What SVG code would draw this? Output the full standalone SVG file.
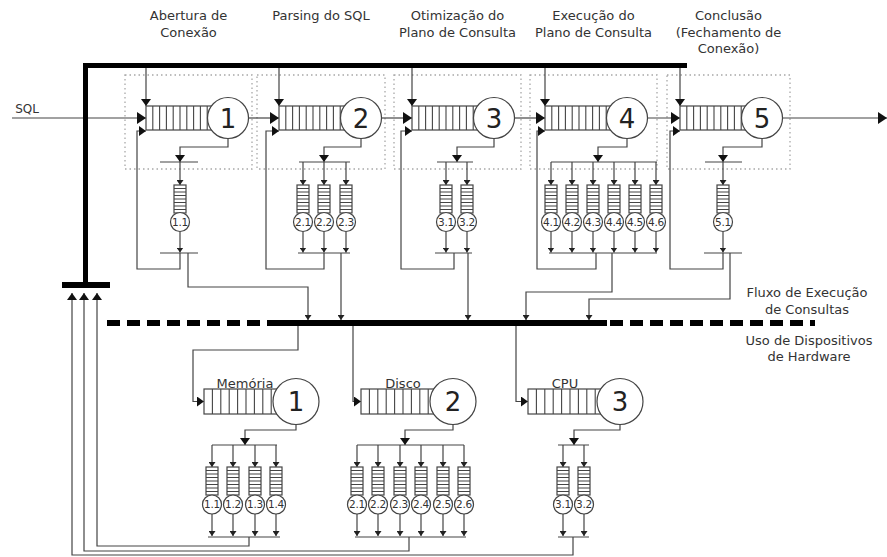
<svg xmlns="http://www.w3.org/2000/svg" xmlns:xlink="http://www.w3.org/1999/xlink" width="887" height="557" viewBox="0 0 887 557">
<style>
.l{fill:none;stroke:#444;stroke-width:1.2}
.box{fill:none;stroke:#a8a8a8;stroke-width:1.3;stroke-dasharray:1.5 3}
.qf{fill:#fff;stroke:#444;stroke-width:1.2}
.qs{fill:none;stroke:#444;stroke-width:1.1}
.c{fill:#fff;stroke:#444;stroke-width:1.2}
.t{font-family:"DejaVu Sans",Verdana,sans-serif;font-size:13px;fill:#333;text-anchor:middle}
.n{font-family:"DejaVu Sans",Verdana,sans-serif;font-size:26px;fill:#222;text-anchor:middle}
.sl{font-family:"DejaVu Sans",Verdana,sans-serif;font-size:10.5px;fill:#333;text-anchor:middle;letter-spacing:-0.3px}
.thick{fill:none;stroke:#000}
</style>
<defs>
<marker id="ab" viewBox="0 0 10 10" refX="10" refY="5" markerWidth="9" markerHeight="12" markerUnits="userSpaceOnUse" orient="auto" preserveAspectRatio="none"><path d="M0,0L10,5L0,10z" fill="#111"/></marker>
<marker id="am" viewBox="0 0 10 10" refX="10" refY="5" markerWidth="7" markerHeight="10" markerUnits="userSpaceOnUse" orient="auto" preserveAspectRatio="none"><path d="M0,0L10,5L0,10z" fill="#111"/></marker>
<marker id="as" viewBox="0 0 10 10" refX="10" refY="5" markerWidth="5" markerHeight="7" markerUnits="userSpaceOnUse" orient="auto" preserveAspectRatio="none"><path d="M0,0L10,5L0,10z" fill="#222"/></marker>
<g id="bq"><rect class="qf" x="0" y="0" width="68" height="24"/><path class="qs" d="M6.8,0v24M13.6,0v24M20.4,0v24M27.2,0v24M34,0v24M40.8,0v24M47.6,0v24M54.4,0v24M61.2,0v24"/></g>
<g id="hq"><rect class="qf" x="0" y="0" width="82" height="25"/><path class="qs" d="M8.4,0v25M16.8,0v25M25.2,0v25M33.6,0v25M42,0v25M50.4,0v25M58.8,0v25M67.2,0v25M75.6,0v25"/></g>
<g id="sq"><rect class="qf" x="-6" y="0" width="12" height="28"/><path class="qs" d="M-6,3.5h12M-6,7h12M-6,10.5h12M-6,14h12M-6,17.5h12M-6,21h12M-6,24.5h12"/></g>
</defs>
<rect width="887" height="557" fill="#fff"/>

<!-- stage frames -->
<g id="frames">
<rect class="box" x="125" y="75" width="127" height="94"/>
<rect class="box" x="257" y="75" width="128" height="94"/>
<rect class="box" x="394" y="75" width="127" height="94"/>
<rect class="box" x="530" y="75" width="127" height="94"/>
<rect class="box" x="667" y="75" width="123" height="94"/>
</g>

<g id="connectors">
<!-- main flow -->
<path class="l" d="M12,118H146" marker-end="url(#ab)"/>
<path class="l" d="M248.5,118H279" marker-end="url(#ab)"/>
<path class="l" d="M381.5,118H412" marker-end="url(#ab)"/>
<path class="l" d="M514.5,118H545" marker-end="url(#ab)"/>
<path class="l" d="M647.5,118H680" marker-end="url(#ab)"/>
<path class="l" d="M782.5,118H887" marker-end="url(#ab)"/>
<!-- control from top bar -->
<path class="l" d="M146,68V106" marker-end="url(#am)"/>
<path class="l" d="M279,68V106" marker-end="url(#am)"/>
<path class="l" d="M412,68V106" marker-end="url(#am)"/>
<path class="l" d="M545,68V106" marker-end="url(#am)"/>
<path class="l" d="M680,68V106" marker-end="url(#am)"/>
<!-- feedback into queues -->
<path class="l" d="M180,253V269H137V131H146" marker-end="url(#am)"/>
<path class="l" d="M324,253V269H266V131H279" marker-end="url(#am)"/>
<path class="l" d="M454,253V269H401V131H412" marker-end="url(#am)"/>
<path class="l" d="M596,253V269H537V131H545" marker-end="url(#am)"/>
<path class="l" d="M723,253V269H670V131H680" marker-end="url(#am)"/>
<!-- exits to branch bars -->
<path class="l" d="M228,138.5V147H180V162" marker-end="url(#am)"/>
<path class="l" d="M361,138.5V147H324V162" marker-end="url(#am)"/>
<path class="l" d="M494,138.5V147H457V162" marker-end="url(#am)"/>
<path class="l" d="M627,138.5V147H598V162" marker-end="url(#am)"/>
<path class="l" d="M762,138.5V147H723V162" marker-end="url(#am)"/>
<path class="l" d="M160,162H198M299,162H350M437,162H473M551,162H657M705,162H742"/>
<path class="l" d="M160,253H198M298,253H350M435,253H472M549,253H657M704,253H742"/>
<!-- sub in -->
<g marker-end="url(#as)">
<path class="l" d="M180,162V185"/>
<path class="l" d="M303,162V185"/><path class="l" d="M324,162V185"/><path class="l" d="M346,162V185"/>
<path class="l" d="M446,162V185"/><path class="l" d="M467,162V185"/>
<path class="l" d="M551,162V185"/><path class="l" d="M572,162V185"/><path class="l" d="M593,162V185"/><path class="l" d="M614,162V185"/><path class="l" d="M635,162V185"/><path class="l" d="M656,162V185"/>
<path class="l" d="M723,162V185"/>
<!-- sub out -->
<path class="l" d="M180,231.5V252.5"/>
<path class="l" d="M303,231.5V252.5"/><path class="l" d="M324,231.5V252.5"/><path class="l" d="M346,231.5V252.5"/>
<path class="l" d="M446,231.5V252.5"/><path class="l" d="M467,231.5V252.5"/>
<path class="l" d="M551,231.5V252.5"/><path class="l" d="M572,231.5V252.5"/><path class="l" d="M593,231.5V252.5"/><path class="l" d="M614,231.5V252.5"/><path class="l" d="M635,231.5V252.5"/><path class="l" d="M656,231.5V252.5"/>
<path class="l" d="M723,231.5V252.5"/>
<!-- to bus -->
<path class="l" d="M188,253V287H308V320"/>
<path class="l" d="M341,253V320"/>
<path class="l" d="M468,253V320"/>
<path class="l" d="M612,253V292H526V320"/>
<path class="l" d="M730,253V299H589V320"/>
</g>
<!-- bus to hardware -->
<path class="l" d="M298,326V350H193V401.5H204" marker-end="url(#am)"/>
<path class="l" d="M353,326V401.5H361" marker-end="url(#am)"/>
<path class="l" d="M516,326V401.5H528" marker-end="url(#am)"/>
<path class="l" d="M296,424.5V430H245V445" marker-end="url(#am)"/>
<path class="l" d="M453,424.5V430H405V445" marker-end="url(#am)"/>
<path class="l" d="M620,424.5V430H574V445" marker-end="url(#am)"/>
<path class="l" d="M212,445H277M357,445H464M558,445H589"/>
<path class="l" d="M208,537H280M355,537H466M558,537H589"/>
<g marker-end="url(#as)">
<path class="l" d="M212,445V467"/><path class="l" d="M233,445V467"/><path class="l" d="M255,445V467"/><path class="l" d="M276,445V467"/>
<path class="l" d="M357,445V467"/><path class="l" d="M378,445V467"/><path class="l" d="M400,445V467"/><path class="l" d="M421,445V467"/><path class="l" d="M443,445V467"/><path class="l" d="M464,445V467"/>
<path class="l" d="M563,445V467"/><path class="l" d="M584,445V467"/>
<path class="l" d="M212,514V536"/><path class="l" d="M233,514V536"/><path class="l" d="M255,514V536"/><path class="l" d="M276,514V536"/>
<path class="l" d="M357,514V536"/><path class="l" d="M378,514V536"/><path class="l" d="M400,514V536"/><path class="l" d="M421,514V536"/><path class="l" d="M443,514V536"/><path class="l" d="M464,514V536"/>
<path class="l" d="M563,514V536"/><path class="l" d="M584,514V536"/>
</g>
<!-- returns to control -->
<path class="l" d="M249,537V546H97V293" marker-end="url(#am)"/>
<path class="l" d="M409,537V551H84V293" marker-end="url(#am)"/>
<path class="l" d="M573,537V555H72V293" marker-end="url(#am)"/>
<!-- thick control bars and bus -->
<path class="thick" stroke-width="5" d="M687,65.5H85.5V285"/>
<path class="thick" stroke-width="6" d="M62,285H110"/>
<path class="thick" stroke-width="6" d="M268,323H607"/>
<path class="thick" stroke-width="6" stroke-dasharray="13 7" d="M107,323H268"/>
<path class="thick" stroke-width="6" stroke-dasharray="13 7" d="M610,323H815"/>
</g>

<!-- stages -->
<g id="stage1"><use href="#bq" x="146" y="106"/><circle class="c" cx="228" cy="118" r="20.5"/><text class="n" x="228" y="127.5">1</text></g>
<g id="stage2"><use href="#bq" x="279" y="106"/><circle class="c" cx="361" cy="118" r="20.5"/><text class="n" x="361" y="127.5">2</text></g>
<g id="stage3"><use href="#bq" x="412" y="106"/><circle class="c" cx="494" cy="118" r="20.5"/><text class="n" x="494" y="127.5">3</text></g>
<g id="stage4"><use href="#bq" x="545" y="106"/><circle class="c" cx="627" cy="118" r="20.5"/><text class="n" x="627" y="127.5">4</text></g>
<g id="stage5"><use href="#bq" x="680" y="106"/><circle class="c" cx="762" cy="118" r="20.5"/><text class="n" x="762" y="127.5">5</text></g>

<!-- stage sub-processes -->
<g id="s1-1"><use href="#sq" x="180" y="185"/><circle class="c" cx="180" cy="222" r="9.5"/><text class="sl" x="180" y="225.8">1.1</text></g>
<g id="s2-1"><use href="#sq" x="303" y="185"/><circle class="c" cx="303" cy="222" r="9.5"/><text class="sl" x="303" y="225.8">2.1</text></g>
<g id="s2-2"><use href="#sq" x="324" y="185"/><circle class="c" cx="324" cy="222" r="9.5"/><text class="sl" x="324" y="225.8">2.2</text></g>
<g id="s2-3"><use href="#sq" x="346" y="185"/><circle class="c" cx="346" cy="222" r="9.5"/><text class="sl" x="346" y="225.8">2.3</text></g>
<g id="s3-1"><use href="#sq" x="446" y="185"/><circle class="c" cx="446" cy="222" r="9.5"/><text class="sl" x="446" y="225.8">3.1</text></g>
<g id="s3-2"><use href="#sq" x="467" y="185"/><circle class="c" cx="467" cy="222" r="9.5"/><text class="sl" x="467" y="225.8">3.2</text></g>
<g id="s4-1"><use href="#sq" x="551" y="185"/><circle class="c" cx="551" cy="222" r="9.5"/><text class="sl" x="551" y="225.8">4.1</text></g>
<g id="s4-2"><use href="#sq" x="572" y="185"/><circle class="c" cx="572" cy="222" r="9.5"/><text class="sl" x="572" y="225.8">4.2</text></g>
<g id="s4-3"><use href="#sq" x="593" y="185"/><circle class="c" cx="593" cy="222" r="9.5"/><text class="sl" x="593" y="225.8">4.3</text></g>
<g id="s4-4"><use href="#sq" x="614" y="185"/><circle class="c" cx="614" cy="222" r="9.5"/><text class="sl" x="614" y="225.8">4.4</text></g>
<g id="s4-5"><use href="#sq" x="635" y="185"/><circle class="c" cx="635" cy="222" r="9.5"/><text class="sl" x="635" y="225.8">4.5</text></g>
<g id="s4-6"><use href="#sq" x="656" y="185"/><circle class="c" cx="656" cy="222" r="9.5"/><text class="sl" x="656" y="225.8">4.6</text></g>
<g id="s5-1"><use href="#sq" x="723" y="185"/><circle class="c" cx="723" cy="222" r="9.5"/><text class="sl" x="723" y="225.8">5.1</text></g>

<!-- hardware devices -->
<g id="hw-memoria"><use href="#hq" x="204" y="389"/><circle class="c" cx="296" cy="401.5" r="23"/><text class="n" x="296" y="411">1</text><text class="t" x="245" y="388">Memória</text></g>
<g id="hw-disco"><use href="#hq" x="361" y="389"/><circle class="c" cx="453" cy="401.5" r="23"/><text class="n" x="453" y="411">2</text><text class="t" x="403" y="388">Disco</text></g>
<g id="hw-cpu"><use href="#hq" x="528" y="389"/><circle class="c" cx="620" cy="401.5" r="23"/><text class="n" x="620" y="411">3</text><text class="t" x="565" y="388">CPU</text></g>

<!-- hardware sub-units -->
<g id="h1-1"><use href="#sq" x="212" y="467"/><circle class="c" cx="212" cy="504.5" r="9.5"/><text class="sl" x="212" y="508.3">1.1</text></g>
<g id="h1-2"><use href="#sq" x="233" y="467"/><circle class="c" cx="233" cy="504.5" r="9.5"/><text class="sl" x="233" y="508.3">1.2</text></g>
<g id="h1-3"><use href="#sq" x="255" y="467"/><circle class="c" cx="255" cy="504.5" r="9.5"/><text class="sl" x="255" y="508.3">1.3</text></g>
<g id="h1-4"><use href="#sq" x="276" y="467"/><circle class="c" cx="276" cy="504.5" r="9.5"/><text class="sl" x="276" y="508.3">1.4</text></g>
<g id="h2-1"><use href="#sq" x="357" y="467"/><circle class="c" cx="357" cy="504.5" r="9.5"/><text class="sl" x="357" y="508.3">2.1</text></g>
<g id="h2-2"><use href="#sq" x="378" y="467"/><circle class="c" cx="378" cy="504.5" r="9.5"/><text class="sl" x="378" y="508.3">2.2</text></g>
<g id="h2-3"><use href="#sq" x="400" y="467"/><circle class="c" cx="400" cy="504.5" r="9.5"/><text class="sl" x="400" y="508.3">2.3</text></g>
<g id="h2-4"><use href="#sq" x="421" y="467"/><circle class="c" cx="421" cy="504.5" r="9.5"/><text class="sl" x="421" y="508.3">2.4</text></g>
<g id="h2-5"><use href="#sq" x="443" y="467"/><circle class="c" cx="443" cy="504.5" r="9.5"/><text class="sl" x="443" y="508.3">2.5</text></g>
<g id="h2-6"><use href="#sq" x="464" y="467"/><circle class="c" cx="464" cy="504.5" r="9.5"/><text class="sl" x="464" y="508.3">2.6</text></g>
<g id="h3-1"><use href="#sq" x="563" y="467"/><circle class="c" cx="563" cy="504.5" r="9.5"/><text class="sl" x="563" y="508.3">3.1</text></g>
<g id="h3-2"><use href="#sq" x="584" y="467"/><circle class="c" cx="584" cy="504.5" r="9.5"/><text class="sl" x="584" y="508.3">3.2</text></g>

<!-- labels -->
<g id="labels">
<text class="t" x="188.5" y="20">Abertura de</text>
<text class="t" x="188.5" y="36.5">Conexão</text>
<text class="t" x="321" y="20">Parsing do SQL</text>
<text class="t" x="457.5" y="20">Otimização do</text>
<text class="t" x="457.5" y="36.5">Plano de Consulta</text>
<text class="t" x="593.5" y="20">Execução do</text>
<text class="t" x="593.5" y="36.5">Plano de Consulta</text>
<text class="t" x="728.5" y="20">Conclusão</text>
<text class="t" x="728.5" y="36.5">(Fechamento de</text>
<text class="t" x="728.5" y="53">Conexão)</text>
<text class="t" x="27" y="113" style="font-size:12px">SQL</text>
<text class="t" x="807" y="297">Fluxo de Execução</text>
<text class="t" x="807" y="314">de Consultas</text>
<text class="t" x="809" y="345">Uso de Dispositivos</text>
<text class="t" x="809" y="361">de Hardware</text>
</g>
</svg>
